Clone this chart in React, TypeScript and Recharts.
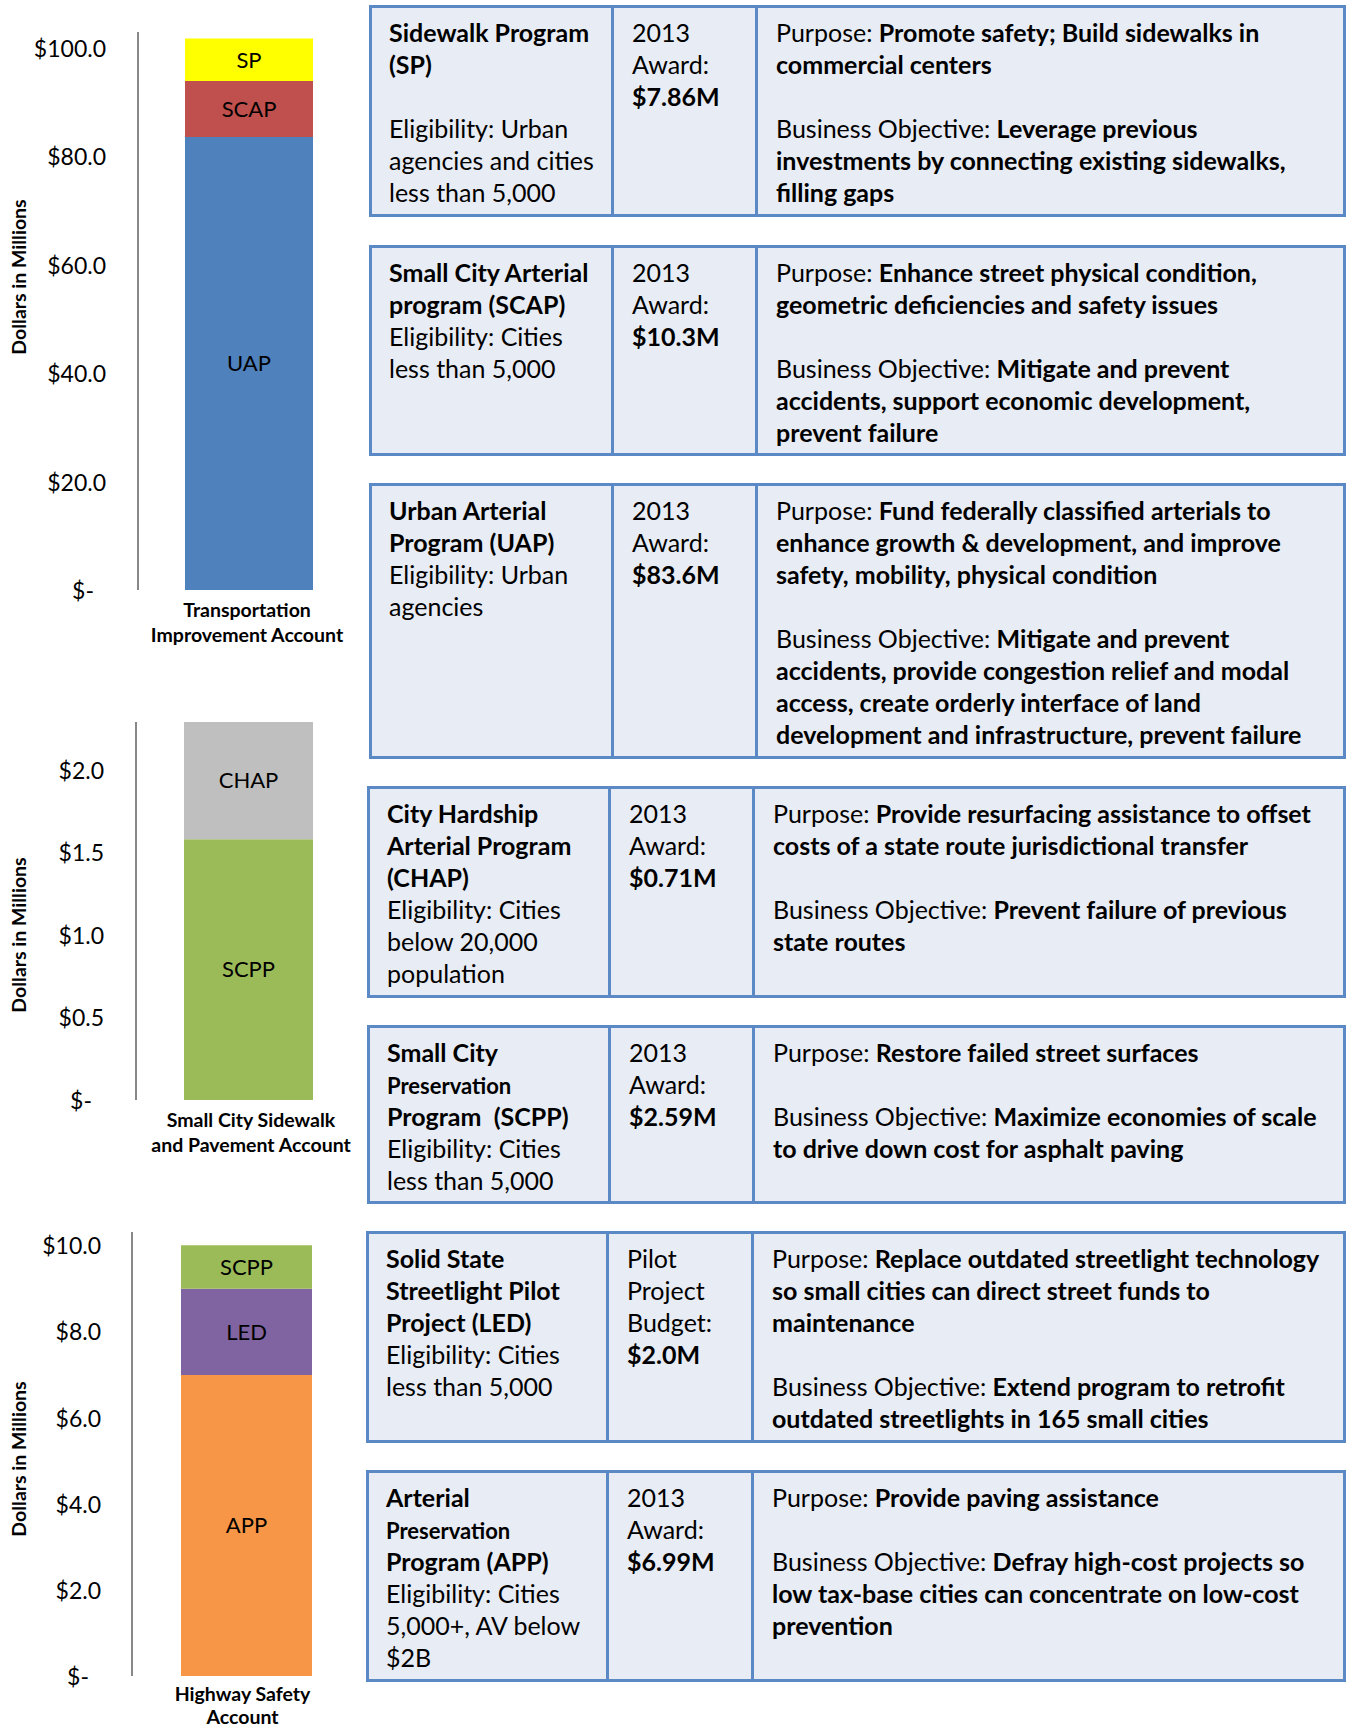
import React from "react"
import { BarChart, Bar, XAxis, YAxis, LabelList } from "recharts"

// Transportation Improvement Account ($M)
const tiaSeries = ["UAP", "SCAP", "SP"]
const tiaValues = [83.6, 10.3, 7.86]
const tiaColors = ["#4F81BD", "#C0504D", "#FFFF00"]
const tiaTicks = [0, 20, 40, 60, 80, 100]

// Small City Sidewalk and Pavement Account ($M)
const scspaSeries = ["SCPP", "CHAP"]
const scspaValues = [1.58, 0.71]
const scspaColors = ["#9BBB59", "#BFBFBF"]
const scspaTicks = [0, 0.5, 1, 1.5, 2]

// Highway Safety Account ($M)
const hsaSeries = ["APP", "LED", "SCPP"]
const hsaValues = [6.99, 2.0, 1.01]
const hsaColors = ["#F79646", "#8064A2", "#9BBB59"]
const hsaTicks = [0, 2, 4, 6, 8, 10]

const FONT = "Lato, 'Open Sans', sans-serif"

// program tables: each line is [regular text, bold text, small?]
type Line = [string, string, boolean?]
const blank: Line = ["", ""]

const programs: { c1: Line[]; c2: Line[]; c3: Line[] }[] = [
  {
    c1: [["", "Sidewalk Program"], ["", "(SP)"], blank, ["Eligibility: Urban", ""], ["agencies and cities", ""], ["less than 5,000", ""]],
    c2: [["2013", ""], ["Award:", ""], ["", "$7.86M"]],
    c3: [
      ["Purpose: ", "Promote safety; Build sidewalks in"],
      ["", "commercial centers"],
      blank,
      ["Business Objective: ", "Leverage previous"],
      ["", "investments by connecting existing sidewalks,"],
      ["", "filling gaps"],
    ],
  },
  {
    c1: [["", "Small City Arterial"], ["", "program (SCAP)"], ["Eligibility: Cities", ""], ["less than 5,000", ""]],
    c2: [["2013", ""], ["Award:", ""], ["", "$10.3M"]],
    c3: [
      ["Purpose: ", "Enhance street physical condition,"],
      ["", "geometric deficiencies and safety issues"],
      blank,
      ["Business Objective: ", "Mitigate and prevent"],
      ["", "accidents, support economic development,"],
      ["", "prevent failure"],
    ],
  },
  {
    c1: [["", "Urban Arterial"], ["", "Program (UAP)"], ["Eligibility: Urban", ""], ["agencies", ""]],
    c2: [["2013", ""], ["Award:", ""], ["", "$83.6M"]],
    c3: [
      ["Purpose: ", "Fund federally classified arterials to"],
      ["", "enhance growth & development, and improve"],
      ["", "safety, mobility, physical condition"],
      blank,
      ["Business Objective: ", "Mitigate and prevent"],
      ["", "accidents, provide congestion relief and modal"],
      ["", "access, create orderly interface of land"],
      ["", "development and infrastructure, prevent failure"],
    ],
  },
  {
    c1: [["", "City Hardship"], ["", "Arterial Program"], ["", "(CHAP)"], ["Eligibility: Cities", ""], ["below 20,000", ""], ["population", ""]],
    c2: [["2013", ""], ["Award:", ""], ["", "$0.71M"]],
    c3: [
      ["Purpose: ", "Provide resurfacing assistance to offset"],
      ["", "costs of a state route jurisdictional transfer"],
      blank,
      ["Business Objective: ", "Prevent failure of previous"],
      ["", "state routes"],
    ],
  },
  {
    c1: [["", "Small City"], ["", "Preservation", true], ["", "Program  (SCPP)"], ["Eligibility: Cities", ""], ["less than 5,000", ""]],
    c2: [["2013", ""], ["Award:", ""], ["", "$2.59M"]],
    c3: [
      ["Purpose: ", "Restore failed street surfaces"],
      blank,
      ["Business Objective: ", "Maximize economies of scale"],
      ["", "to drive down cost for asphalt paving"],
    ],
  },
  {
    c1: [["", "Solid State"], ["", "Streetlight Pilot"], ["", "Project (LED)"], ["Eligibility: Cities", ""], ["less than 5,000", ""]],
    c2: [["Pilot", ""], ["Project", ""], ["Budget:", ""], ["", "$2.0M"]],
    c3: [
      ["Purpose: ", "Replace outdated streetlight technology"],
      ["", "so small cities can direct street funds to"],
      ["", "maintenance"],
      blank,
      ["Business Objective: ", "Extend program to retrofit"],
      ["", "outdated streetlights in 165 small cities"],
    ],
  },
  {
    c1: [["", "Arterial"], ["", "Preservation", true], ["", "Program (APP)"], ["Eligibility: Cities", ""], ["5,000+, AV below", ""], ["$2B", ""]],
    c2: [["2013", ""], ["Award:", ""], ["", "$6.99M"]],
    c3: [
      ["Purpose: ", "Provide paving assistance"],
      blank,
      ["Business Objective: ", "Defray high-cost projects so"],
      ["", "low tax-base cities can concentrate on low-cost"],
      ["", "prevention"],
    ],
  },
]

// table frames: top, bottom, left, first divider, second divider
const frames = [
  [5, 217, 369, 612, 756],
  [245, 456, 369, 612, 756],
  [483, 759, 369, 612, 756],
  [786, 998, 367, 609, 753],
  [1025, 1204, 367, 609, 753],
  [1231, 1443, 366, 607, 752],
  [1470, 1682, 366, 607, 752],
]

function TextCol({ lines, x, y }: { lines: Line[]; x: number; y: number }) {
  return (
    <div style={{ position: "absolute", left: x, top: y }}>
      {lines.map(([r, b, small], i) => (
        <div key={i} style={{ height: 32, lineHeight: "32px", whiteSpace: "pre", fontSize: 25, color: "#000" }}>
          <span>{r}</span>
          <span style={{ fontWeight: 700, fontSize: small ? 22 : 25 }}>{b}</span>
        </div>
      ))}
    </div>
  )
}

function ProgramTable({ i }: { i: number }) {
  const [top, bottom, left, d1, d2] = frames[i]
  const p = programs[i]
  const border = "3px solid #5A89C5"
  return (
    <>
      <div
        style={{
          position: "absolute",
          left,
          top,
          width: 1346 - left,
          height: bottom - top,
          boxSizing: "border-box",
          border,
          background: "#E8ECF4",
        }}
      />
      <div style={{ position: "absolute", left: d1 - 1, top, width: 3, height: bottom - top, background: "#5A89C5" }} />
      <div style={{ position: "absolute", left: d2 - 1, top, width: 3, height: bottom - top, background: "#5A89C5" }} />
      <TextCol lines={p.c1} x={left + 20} y={top + 11} />
      <TextCol lines={p.c2} x={d1 + 20} y={top + 11} />
      <TextCol lines={p.c3} x={d2 + 20} y={top + 11} />
    </>
  )
}

interface AccountChartProps {
  account: string
  series: string[]
  values: number[]
  colors: string[]
  ticks: number[]
  domainMax: number
  top: number
  height: number
  plotTop: number
  plotBottom: number
  axisX: number
  barCenter: number
  barWidth: number
  tickGap: number
  labelDx: number
  labelDy: number
  labelStep: number
  titleY: number
}

function AccountChart(props: AccountChartProps) {
  const { account, series, values, colors, ticks, domainMax, top, height, plotTop, plotBottom, axisX, barCenter, barWidth, tickGap, labelDx, labelDy, labelStep, titleY } = props
  const row: Record<string, string | number> = { name: account }
  series.forEach((s, i) => (row[s] = values[i]))
  const width = 370
  const plotRight = 2 * barCenter - axisX

  const yTick = (t: any) => {
    const v = t.payload.value
    return (
      <text x={t.x + (v === 0 ? -12 : 0)} y={t.y} textAnchor="end" dominantBaseline="central" fontSize={23} fill="#000" fontFamily={FONT}>
        {v === 0 ? "$-" : "$" + v.toFixed(1)}
      </text>
    )
  }

  const xTick = (t: any) => {
    const lines = String(t.payload.value).split("\n")
    return (
      <g>
        {lines.map((l, i) => (
          <text key={i} x={t.x + labelDx} y={t.y + labelDy + i * labelStep} textAnchor="middle" dominantBaseline="central" fontSize={19.5} fontWeight={700} fill="#000" fontFamily={FONT}>
            {l}
          </text>
        ))}
      </g>
    )
  }

  const title = () => (
    <text x={18} y={titleY} transform={`rotate(-90 18 ${titleY})`} textAnchor="middle" dominantBaseline="central" fontSize={19.5} fontWeight={700} fill="#000" fontFamily={FONT}>
      Dollars in Millions
    </text>
  )

  return (
    <div style={{ position: "absolute", left: 0, top }}>
      <BarChart
        width={width}
        height={height}
        data={[row]}
        margin={{ top: plotTop, right: width - plotRight, bottom: 0, left: 0 }}
        barSize={barWidth}
      >
        <XAxis dataKey="name" axisLine={false} tickLine={false} tickSize={0} tickMargin={0} height={height - plotBottom} tick={xTick} interval={0} />
        <YAxis
          type="number"
          width={axisX}
          domain={[0, domainMax]}
          ticks={ticks}
          allowDataOverflow
          axisLine={{ stroke: "#888888", strokeWidth: 2 }}
          tickLine={false}
          tickSize={0}
          tickMargin={tickGap}
          tick={yTick}
          label={title}
        />
        {series.map((s, i) => (
          <Bar key={s} dataKey={s} stackId="a" fill={colors[i]} isAnimationActive={false}>
            <LabelList dataKey={s} position="center" formatter={() => s} fill="#000" fontSize={22} fontFamily={FONT} />
          </Bar>
        ))}
      </BarChart>
    </div>
  )
}

export default function App() {
  return (
    <div style={{ position: "absolute", left: 0, top: 0, width: 1348, height: 1728, background: "#fff", fontFamily: FONT, overflow: "hidden" }}>
      <AccountChart
        account={"Transportation\nImprovement Account"}
        series={tiaSeries}
        values={tiaValues}
        colors={tiaColors}
        ticks={tiaTicks}
        domainMax={102.95}
        top={0}
        height={660}
        plotTop={32}
        plotBottom={590}
        axisX={138}
        barCenter={249}
        barWidth={128}
        tickGap={32}
        labelDx={-2}
        labelDy={19}
        labelStep={25}
        titleY={277}
      />
      <AccountChart
        account={"Small City Sidewalk\nand Pavement Account"}
        series={scspaSeries}
        values={scspaValues}
        colors={scspaColors}
        ticks={scspaTicks}
        domainMax={2.29}
        top={660}
        height={520}
        plotTop={62}
        plotBottom={440}
        axisX={136}
        barCenter={248.5}
        barWidth={129}
        tickGap={32}
        labelDx={2.5}
        labelDy={19}
        labelStep={25}
        titleY={275}
      />
      <AccountChart
        account={"Highway Safety\nAccount"}
        series={hsaSeries}
        values={hsaValues}
        colors={hsaColors}
        ticks={hsaTicks}
        domainMax={10.31}
        top={1180}
        height={548}
        plotTop={52}
        plotBottom={496}
        axisX={132}
        barCenter={246.5}
        barWidth={131}
        tickGap={31}
        labelDx={-4}
        labelDy={17}
        labelStep={23}
        titleY={279}
      />
      {programs.map((_, i) => (
        <ProgramTable key={i} i={i} />
      ))}
    </div>
  )
}
